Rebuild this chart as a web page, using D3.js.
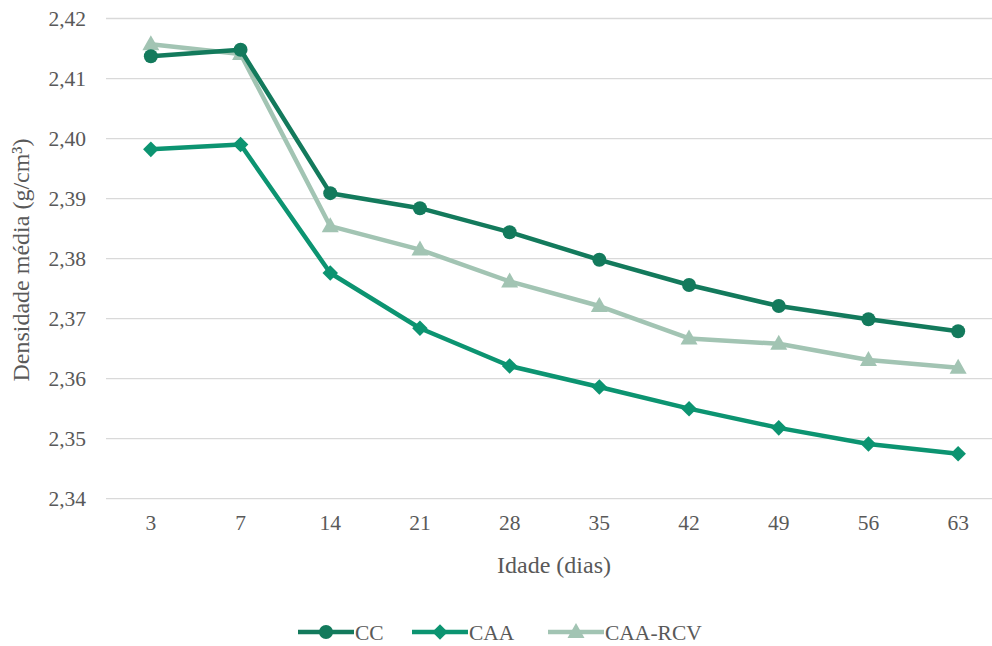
<!DOCTYPE html>
<html><head><meta charset="utf-8">
<script src="https://cdn.jsdelivr.net/npm/d3@7"></script>
<style>body{margin:0;background:#fff}svg{display:block}</style>
</head><body><svg id="c" width="992" height="646"></svg>
<script>
const categories = ["3","7","14","21","28","35","42","49","56","63"];
const ccValues = [2.4137,2.4148,2.3909,2.3884,2.3844,2.3798,2.3756,2.3721,2.3699,2.3679];
const caaValues = [2.3982,2.3990,2.3776,2.3684,2.3621,2.3586,2.3550,2.3518,2.3491,2.3475];
const rcvValues = [2.4157,2.4141,2.3854,2.3815,2.3762,2.3721,2.3667,2.3658,2.3631,2.3618];
const yTicks = [2.34,2.35,2.36,2.37,2.38,2.39,2.40,2.41,2.42];
const seriesNames = ["CC","CAA","CAA-RCV"];
const colors = ["#137a5c","#0c9471","#a2c4b3"];
const shapes = ["circle","diamond","triangle"];
const FONT = "'Times New Roman', Times, 'Liberation Serif', 'DejaVu Serif', 'Noto Serif', serif";

const svg = d3.select("#c").style("font-family", FONT);
const x = d3.scaleBand().domain(categories).range([106, 1003]);
const y = d3.scaleLinear().domain([2.34, 2.42]).range([498.7, 18.5]);
const fmt = v => d3.format(".2f")(v).replace(".", ",");

svg.append("g").selectAll("line").data(yTicks).join("line")
  .attr("x1", 106).attr("x2", 1003)
  .attr("y1", d => y(d)).attr("y2", d => y(d))
  .attr("stroke", "#d9d9d9").attr("stroke-width", 1.3);

const ya = svg.append("g").attr("transform","translate(86,0)")
  .call(d3.axisLeft(y).tickValues(yTicks).tickFormat(fmt).tickSize(0).tickPadding(0));
ya.attr("font-family", null).attr("font-size", null);
ya.select(".domain").remove();
ya.selectAll("text").style("font-family", FONT).style("font-size","21.5px").attr("fill","#595959");

const xa = svg.append("g").attr("transform","translate(0,515)")
  .call(d3.axisBottom(x).tickSize(0).tickPadding(0));
xa.attr("font-family", null).attr("font-size", null);
xa.select(".domain").remove();
xa.selectAll("text").style("font-family", FONT).style("font-size","21.5px").attr("fill","#595959").attr("dy","0.71em");

svg.append("text").attr("x", 554).attr("y", 573).attr("text-anchor","middle")
  .style("font-family", FONT).style("font-size","24px").attr("fill","#595959").text("Idade (dias)");
svg.append("text").attr("transform","translate(29,260) rotate(-90)").attr("text-anchor","middle")
  .style("font-family", FONT).style("font-size","24px").attr("fill","#595959").text("Densidade média (g/cm³)");

const data = [ccValues, caaValues, rcvValues];
const cx = c => x(c) + x.bandwidth()/2;
const line = d3.line().x((d,i) => cx(categories[i])).y(d => y(d));
function marker(sel, s, col) {
  if (s === "circle") sel.append("circle").attr("r", 7).attr("fill", col);
  else if (s === "diamond") sel.append("rect").attr("x",-5.5).attr("y",-5.5).attr("width",11).attr("height",11)
      .attr("transform","rotate(45)").attr("fill", col);
  else sel.append("path").attr("d","M0,-9 L8.5,6 L-8.5,6 Z").attr("fill", col);
}

[1,2,0].forEach(k => {
  const g = svg.append("g");
  g.append("path").datum(data[k]).attr("d", line).attr("fill","none")
    .attr("stroke", colors[k]).attr("stroke-width", 4.5).attr("stroke-linejoin","round");
  g.selectAll("g.m").data(data[k]).join("g").attr("class","m")
    .attr("transform",(d,i)=>`translate(${cx(categories[i])},${y(d)})`)
    .each(function(){ marker(d3.select(this), shapes[k], colors[k]); });
});

const legX = [298, 412, 548];
seriesNames.forEach((n,k) => {
  const g = svg.append("g").attr("transform", `translate(${legX[k]},632)`);
  g.append("line").attr("x1",0).attr("x2",56).attr("stroke",colors[k]).attr("stroke-width",4.5);
  marker(g.append("g").attr("transform","translate(28,0)"), shapes[k], colors[k]);
  g.append("text").attr("x",57).attr("y",0).attr("dy","0.35em")
    .style("font-family", FONT).style("font-size","21.5px").attr("fill","#595959").text(n);
});
</script></body></html>
